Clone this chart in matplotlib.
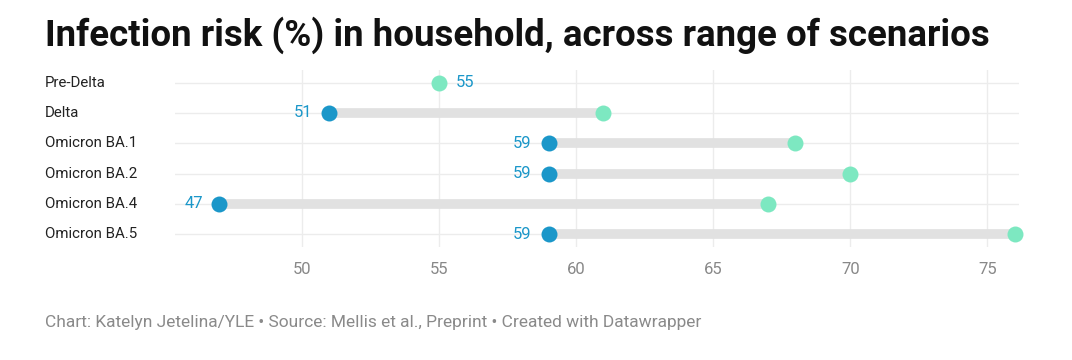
import matplotlib.pyplot as plt

# data
scenarios = ["Pre-Delta", "Delta", "Omicron BA.1", "Omicron BA.2", "Omicron BA.4", "Omicron BA.5"]
low = [None, 51, 59, 59, 47, 59]
high = [55, 61, 68, 70, 67, 76]
ticks = [50, 55, 60, 65, 70, 75]

blue = "#1b97c9"
green = "#7de8c1"
bar_grey = "#e1e1e1"
grid_grey = "#ececec"

plt.rcParams['font.family'] = ['Roboto', 'DejaVu Sans']

fig = plt.figure(figsize=(10.72, 3.6), dpi=100)
ax = fig.add_axes([0.163, 0.314, 0.788, 0.492])

ax.set_xlim(45.37, 76.17)
ax.set_ylim(5.42, -0.42)

for i, name in enumerate(scenarios):
    ax.axhline(i, color=grid_grey, lw=1, zorder=0)
    if low[i] is not None:
        ax.plot([low[i], high[i]], [i, i], color=bar_grey, lw=7, solid_capstyle="butt", zorder=1)
        ax.plot(low[i], i, "o", color=blue, ms=11.5, mec="none", zorder=3, clip_on=False)
        ax.annotate(str(low[i]), (low[i], i), xytext=(-12, 0), textcoords="offset points",
                    ha="right", va="center", color=blue, fontsize=12)
        ax.plot(high[i], i, "o", color=green, ms=11.5, mec="none", zorder=3, clip_on=False)
    else:
        ax.plot(high[i], i, "o", color=green, ms=11.5, mec="none", zorder=3, clip_on=False)
        ax.annotate(str(high[i]), (high[i], i), xytext=(12, 0), textcoords="offset points",
                    ha="left", va="center", color=blue, fontsize=12)
    fig.text(45 / 1072, ax.transData.transform((0, i))[1] / 360, name,
             ha="left", va="center", fontsize=10.8, color="#222222")

for t in ticks:
    ax.axvline(t, color=grid_grey, lw=1, zorder=0)

ax.set_xticks(ticks)
ax.set_xticklabels([str(t) for t in ticks], color="#888888", fontsize=12)
ax.tick_params(axis="x", length=0, pad=11)
ax.set_yticks([])
for s in ax.spines.values():
    s.set_visible(False)

fig.text(45 / 1072, 1 - 35 / 360, "Infection risk (%) in household, across range of scenarios",
         ha="left", va="center", fontsize=26.4, fontweight="bold", color="#111111")
fig.text(45 / 1072, 1 - 323 / 360,
         "Chart: Katelyn Jetelina/YLE \u2022 Source: Mellis et al., Preprint \u2022 Created with Datawrapper",
         ha="left", va="center", fontsize=12.5, color="#8a8a8a")

fig.savefig("out.png", dpi=100)
